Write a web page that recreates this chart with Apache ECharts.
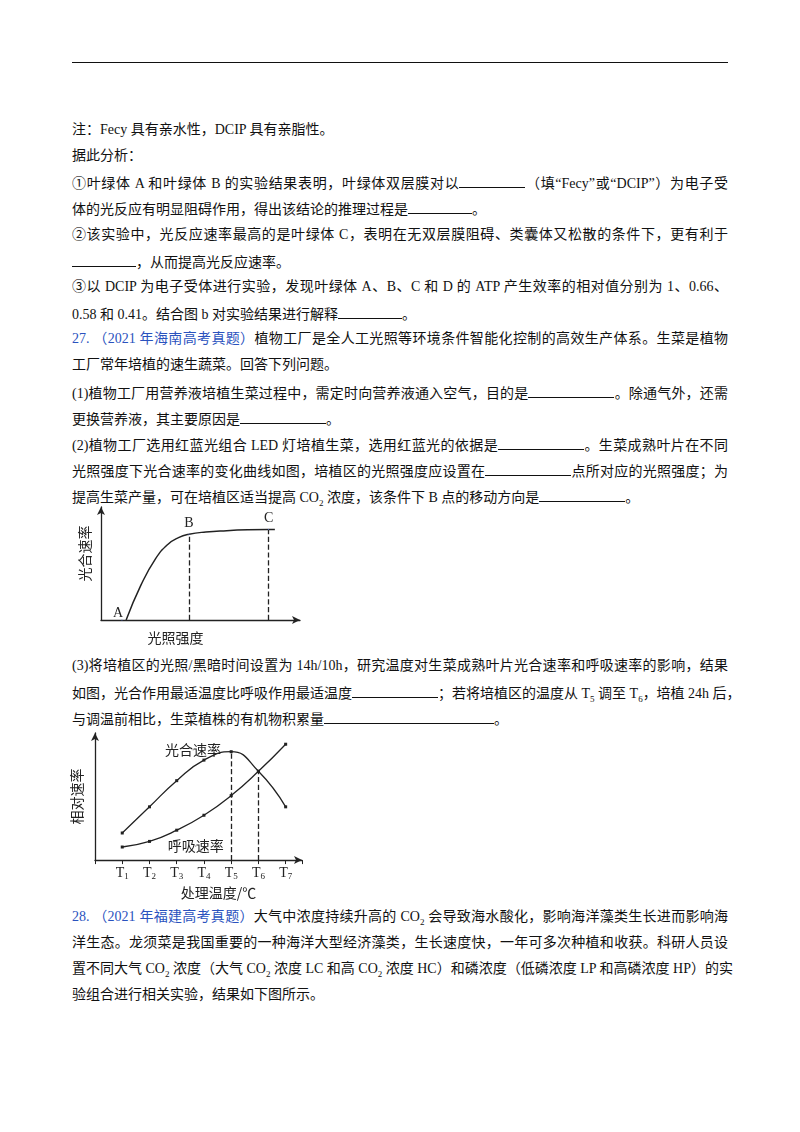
<!DOCTYPE html>
<html><head><meta charset="utf-8">
<script src="https://cdn.jsdelivr.net/npm/echarts@6/dist/echarts.min.js"></script>
<style>
body{margin:0;background:#fff;width:800px;height:1132px;position:relative;overflow:hidden;
 font-family:"Liberation Serif","Noto Sans CJK SC",serif;font-size:14px;color:#111}
.l{position:absolute;left:72px;width:656px;height:20px;line-height:20px;white-space:nowrap}
.j{text-align:justify;text-align-last:justify}
.b{color:#2a52be}
.u{display:inline-block;border-bottom:1px solid #111;height:15px;vertical-align:baseline}
#rule{position:absolute;left:72px;top:62px;width:656px;border-top:1.3px solid #111}
#c1{position:absolute;left:60px;top:500px;width:250px;height:150px}
#c2{position:absolute;left:60px;top:725px;width:250px;height:180px}
</style></head><body>
<div id="rule"></div>
<div id="text"></div>
<div id="c1"></div>
<div id="c2"></div>
<script>
// 页面文字（行中心 y, 是否两端对齐, html）
const U = n => `<span class="u" style="width:${n}px"></span>`;
const lines = [
  [130, false, '注：Fecy 具有亲水性，DCIP 具有亲脂性。'],
  [156, false, '据此分析：'],
  [182, true, `①叶绿体 A 和叶绿体 B 的实验结果表明，叶绿体双层膜对以${U(66)}（填“Fecy”或“DCIP”）为电子受`],
  [208, false, `体的光反应有明显阻碍作用，得出该结论的推理过程是${U(64)}。`],
  [235, true, '②该实验中，光反应速率最高的是叶绿体 C，表明在无双层膜阻碍、类囊体又松散的条件下，更有利于'],
  [261, false, `${U(64)}，从而提高光反应速率。`],
  [287, true, '③以 DCIP 为电子受体进行实验，发现叶绿体 A、B、C 和 D 的 ATP 产生效率的相对值分别为 1、0.66、'],
  [313, false, `0.58 和 0.41。结合图 b 对实验结果进行解释${U(64)}。`],
  [339, true, '<span class="b">27. （2021 年海南高考真题）</span>植物工厂是全人工光照等环境条件智能化控制的高效生产体系。生菜是植物'],
  [365, false, '工厂常年培植的速生蔬菜。回答下列问题。'],
  [392, true, `(1)植物工厂用营养液培植生菜过程中，需定时向营养液通入空气，目的是${U(86)}。除通气外，还需`],
  [418, false, `更换营养液，其主要原因是${U(86)}。`],
  [444, true, `(2)植物工厂选用红蓝光组合 LED 灯培植生菜，选用红蓝光的依据是${U(86)}。生菜成熟叶片在不同`],
  [470, true, `光照强度下光合速率的变化曲线如图，培植区的光照强度应设置在${U(86)}点所对应的光照强度；为`],
  [496, false, `提高生菜产量，可在培植区适当提高 CO<sub style="font-size:9px">2</sub> 浓度，该条件下 B 点的移动方向是${U(86)}。`],
  [666, true, '(3)将培植区的光照/黑暗时间设置为 14h/10h，研究温度对生菜成熟叶片光合速率和呼吸速率的影响，结果'],
  [692, true, `如图，光合作用最适温度比呼吸作用最适温度${U(86)}；若将培植区的温度从 T<sub style="font-size:9px">5</sub> 调至 T<sub style="font-size:9px">6</sub>，培植 24h 后，`],
  [718, false, `与调温前相比，生菜植株的有机物积累量${U(170)}。`],
  [917, true, '<span class="b">28. （2021 年福建高考真题）</span>大气中浓度持续升高的 CO<sub style="font-size:9px">2</sub> 会导致海水酸化，影响海洋藻类生长进而影响海'],
  [943, true, '洋生态。龙须菜是我国重要的一种海洋大型经济藻类，生长速度快，一年可多次种植和收获。科研人员设'],
  [969, true, '置不同大气 CO<sub style="font-size:9px">2</sub> 浓度（大气 CO<sub style="font-size:9px">2</sub> 浓度 LC 和高 CO<sub style="font-size:9px">2</sub> 浓度 HC）和磷浓度（低磷浓度 LP 和高磷浓度 HP）的实'],
  [995, false, '验组合进行相关实验，结果如下图所示。']
];
document.getElementById('text').innerHTML = lines.map(([y, j, h]) =>
  `<div class="l${j ? ' j' : ''}" style="top:${y - 10}px">${h}</div>`).join('');

// 图1：光照强度-光合速率
const lightX = [1.2, 1.9, 2.6, 3.2, 3.7, 4.2, 5, 6, 7, 8, 8.3];
const lightY = [0, 2.6, 4.6, 5.7, 6.2, 6.45, 6.62, 6.72, 6.78, 6.8, 6.8];
const pointB = [4.2, 6.45], pointC = [8, 6.8];

const axisBase = {
  axisLine: { lineStyle: { color: '#222', width: 1.3 }, symbol: ['none', 'arrow'], symbolSize: [6, 8] },
  axisTick: { show: false }, axisLabel: { show: false }, splitLine: { show: false }
};
const font = '"Noto Sans CJK SC", sans-serif';

const chart1 = echarts.init(document.getElementById('c1'));
chart1.setOption({
  animation: false,
  grid: { left: 41, right: 10, top: 7, bottom: 25 },
  xAxis: { type: 'value', min: 0, max: 9.5, ...axisBase, name: '光照强度', nameLocation: 'middle', nameGap: 11,
    nameTextStyle: { fontFamily: font, fontSize: 14, color: '#222', padding: [0, 50, 0, 0] } },
  yAxis: { type: 'value', min: 0, max: 8.5, ...axisBase, name: '光合速率', nameLocation: 'middle', nameGap: 9,
    nameRotate: 90, nameTextStyle: { fontFamily: font, fontSize: 14, color: '#222', padding: [0, 0, 0, 20] } },
  series: [{
    type: 'line', smooth: true, symbol: 'none', lineStyle: { color: '#222', width: 1.5 },
    data: lightX.map((x, i) => [x, lightY[i]]),
    markLine: {
      symbol: 'none', silent: true, label: { show: false },
      lineStyle: { type: 'dashed', color: '#222', width: 1.3 },
      data: [[{ coord: [pointB[0], 0] }, { coord: pointB }], [{ coord: [pointC[0], 0] }, { coord: pointC }]]
    },
    markPoint: {
      symbol: 'circle', symbolSize: 1,
      label: { show: true, color: '#222', fontSize: 14, fontFamily: 'Liberation Serif' },
      data: [
        { coord: [1.0, 0], value: 'A', label: { offset: [-4, -7] } },
        { coord: pointB, value: 'B', label: { offset: [0, -11] } },
        { coord: pointC, value: 'C', label: { offset: [0, -11] } }
      ]
    }
  }]
});

// 图2：处理温度-相对速率
const temps = ['1', '2', '3', '4', '5', '6', '7'];
const photo = [2.9, 5.7, 8.5, 10.7, 11.6, 9.5, 5.7];
const resp = [1.4, 2.0, 3.2, 4.8, 6.9, 9.5, 12.4];
const chart2 = echarts.init(document.getElementById('c2'));
chart2.setOption({
  animation: false,
  grid: { left: 35, right: 8, top: 8, bottom: 33 },
  xAxis: { type: 'value', min: 0, max: 7.6, interval: 1, ...axisBase,
    axisTick: { show: true, inside: false, length: 4, lineStyle: { color: '#222' } },
    axisLabel: { show: true, margin: 6, formatter: v => (v >= 1 && v <= 7) ? `{t|T}{s|${temps[v - 1]}}` : '',
      rich: { t: { fontFamily: 'Liberation Serif', fontSize: 14, color: '#222' }, s: { fontFamily: 'Liberation Serif', fontSize: 9, color: '#222', verticalAlign: 'bottom', padding: [6, 0, 0, 0] } } },
    name: '处理温度/℃', nameLocation: 'middle', nameGap: 24,
    nameTextStyle: { fontFamily: font, fontSize: 14, color: '#222', padding: [0, 0, 0, 40] } },
  yAxis: { type: 'value', min: 0, max: 13.6, ...axisBase, name: '相对速率', nameLocation: 'middle', nameGap: 11,
    nameRotate: 90, nameTextStyle: { fontFamily: font, fontSize: 14, color: '#222' } },
  series: [
    { type: 'line', smooth: true, symbol: 'rect', symbolSize: 3, itemStyle: { color: '#222' },
      lineStyle: { color: '#222', width: 1.3 }, data: photo.map((v, i) => [i + 1, v]),
      markLine: { symbol: 'none', silent: true, label: { show: false },
        lineStyle: { type: 'dashed', color: '#222', width: 1.3 },
        data: [[{ coord: [5, 0] }, { coord: [5, photo[4]] }], [{ coord: [6, 0] }, { coord: [6, photo[5]] }]] },
      markPoint: { symbol: 'circle', symbolSize: 1, data: [{ coord: [3.6, 11.8], value: '光合速率' }],
        label: { show: true, fontFamily: font, fontSize: 14, color: '#222' } } },
    { type: 'line', smooth: true, symbol: 'rect', symbolSize: 3, itemStyle: { color: '#222' },
      lineStyle: { color: '#222', width: 1.3 }, data: resp.map((v, i) => [i + 1, v]),
      markPoint: { symbol: 'circle', symbolSize: 1, data: [{ coord: [3.7, 1.5], value: '呼吸速率' }],
        label: { show: true, fontFamily: font, fontSize: 14, color: '#222' } } }
  ]
});
</script>
</body></html>
